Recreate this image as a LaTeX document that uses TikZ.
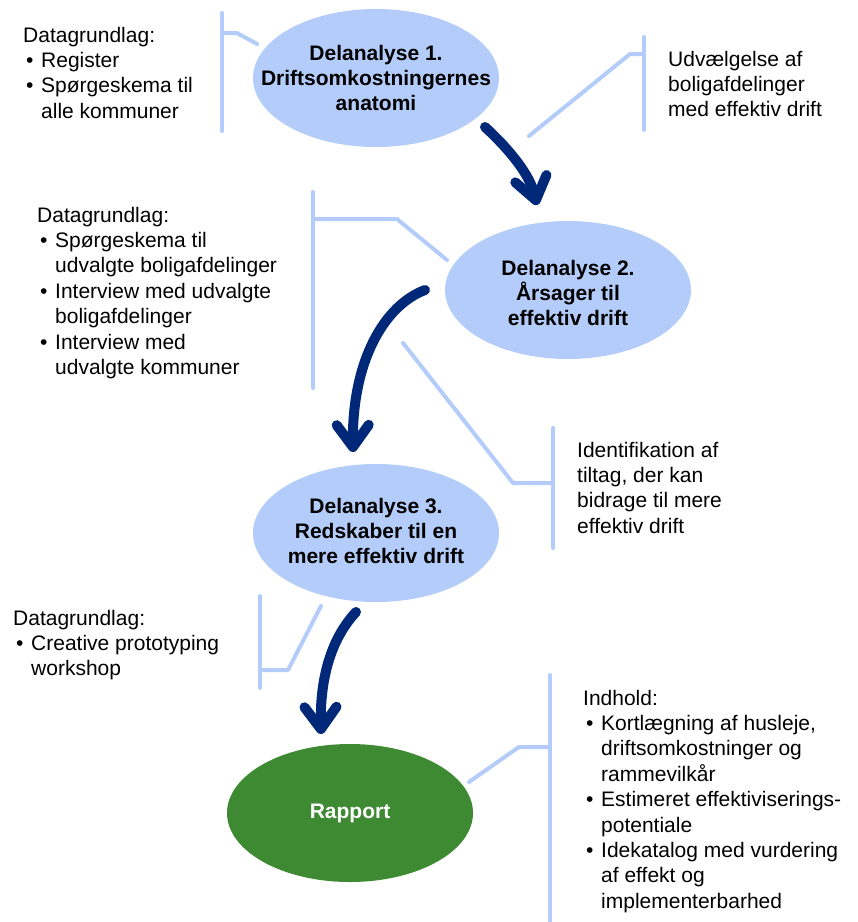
\documentclass[tikz,border=0pt]{standalone}
\usepackage{fontspec}
\setmainfont{Liberation Sans}
\usetikzlibrary{shapes.geometric,arrows.meta}
\definecolor{lblue}{RGB}{179,204,250}
\definecolor{navy}{RGB}{0,40,120}
\definecolor{rgreen}{RGB}{61,138,50}
\newcommand{\bul}{\makebox[18pt][l]{\hspace{3pt}•}}
\newcommand{\ind}{\hspace*{18pt}}
\begin{document}
\begin{tikzpicture}[x=1pt,y=-1pt,
  blob/.style={ellipse, fill=lblue, minimum width=246pt, minimum height=138pt, inner sep=0pt},
  etext/.style={align=center, font=\fontsize{21}{25.4}\selectfont\bfseries, inner sep=0pt},
  note/.style={anchor=base west, inner sep=0pt, font=\fontsize{21}{25.4}\selectfont},
  callout/.style={draw=lblue, line width=4pt, line cap=round, line join=round},
  flow/.style={draw=navy, line width=10pt, line cap=round, -{Straight Barb[length=22pt,width=32pt,round]}},
]
\useasboundingbox (0,0) rectangle (858,922);

% ellipses
\node[blob] (d1) at (376,78) {};
\node[etext] (t1) at (d1.center) {Delanalyse 1.\\Driftsomkostningernes\\anatomi};
\node[blob] (d2) at (568,290) {};
\node[etext] (t2) at (568,293) {Delanalyse 2.\\Årsager til\\effektiv drift};
\node[blob] (d3) at (376,533) {};
\node[etext] (t3) at (376,531) {Delanalyse 3.\\Redskaber til en\\mere effektiv drift};
\node[blob, fill=rgreen] (r) at (350,813) {};
\node[etext, text=white] (tr) at (r.center) {Rapport};

% notes
\node[note] (n1) at (23,42) {\begin{tabular}[t]{@{}l@{}}Datagrundlag:\\ \bul Register\\ \bul Spørgeskema til\\ \ind alle kommuner\end{tabular}};
\node[note] (n2) at (668,66) {\begin{tabular}[t]{@{}l@{}}Udvælgelse af\\ boligafdelinger\\ med effektiv drift\end{tabular}};
\node[note] (n3) at (37,222) {\begin{tabular}[t]{@{}l@{}}Datagrundlag:\\ \bul Spørgeskema til\\ \ind udvalgte boligafdelinger\\ \bul Interview med udvalgte\\ \ind boligafdelinger\\ \bul Interview med\\ \ind udvalgte kommuner\end{tabular}};
\node[note] (n4) at (577,457) {\begin{tabular}[t]{@{}l@{}}Identifikation af\\ tiltag, der kan\\ bidrage til mere\\ effektiv drift\end{tabular}};
\node[note] (n5) at (13,625) {\begin{tabular}[t]{@{}l@{}}Datagrundlag:\\ \bul Creative prototyping\\ \ind workshop\end{tabular}};
\node[note] (n6) at (583,705) {\begin{tabular}[t]{@{}l@{}}Indhold:\\ \bul Kortlægning af husleje,\\ \ind driftsomkostninger og\\ \ind rammevilkår\\ \bul Estimeret effektiviserings-\\ \ind potentiale\\ \bul Idekatalog med vurdering\\ \ind af effekt og\\ \ind implementerbarhed\end{tabular}};

% callout brackets
\coordinate (a1t) at (222,13); \coordinate (a1b) at (222,131);
\coordinate (a1m) at (222,33); \coordinate (a1k) at (237,33); \coordinate (a1e) at (257,44);
\draw[callout] (a1t) -- (a1b);
\draw[callout] (a1m) -- (a1k) -- (a1e);

\coordinate (a2t) at (644,37); \coordinate (a2b) at (644,130);
\coordinate (a2m) at (644,54); \coordinate (a2k) at (630,54); \coordinate (a2e) at (529,136);
\draw[callout] (a2t) -- (a2b);
\draw[callout] (a2m) -- (a2k) -- (a2e);

\coordinate (a3t) at (313,192); \coordinate (a3b) at (313,388);
\coordinate (a3m) at (313,219); \coordinate (a3k) at (397,219); \coordinate (a3e) at (447,260);
\draw[callout] (a3t) -- (a3b);
\draw[callout] (a3m) -- (a3k) -- (a3e);

\coordinate (a4t) at (553,428); \coordinate (a4b) at (553,548);
\coordinate (a4m) at (553,483); \coordinate (a4k) at (513,483); \coordinate (a4e) at (403,343);
\draw[callout] (a4t) -- (a4b);
\draw[callout] (a4m) -- (a4k) -- (a4e);

\coordinate (a5t) at (260,596); \coordinate (a5b) at (260,688);
\coordinate (a5m) at (260,670); \coordinate (a5k) at (288,670); \coordinate (a5e) at (321,606);
\draw[callout] (a5t) -- (a5b);
\draw[callout] (a5m) -- (a5k) -- (a5e);

\coordinate (a6t) at (550,675); \coordinate (a6b) at (550,926);
\coordinate (a6m) at (550,747); \coordinate (a6k) at (519,747); \coordinate (a6e) at (469,782);
\draw[callout] (a6t) -- (a6b);
\draw[callout] (a6m) -- (a6k) -- (a6e);

% flow arrows
\coordinate (s1) at (485,127); \coordinate (e1) at (537,205);
\draw[flow] (s1) .. controls (510,150) and (530,175) .. (e1);
\coordinate (s2) at (425,290); \coordinate (e2) at (353,452);
\draw[flow] (s2) .. controls (385,305) and (352,360) .. (e2);
\coordinate (s3) at (356,612); \coordinate (e3) at (321,734);
\draw[flow] (s3) .. controls (330,640) and (320,680) .. (e3);
\end{tikzpicture}
\end{document}
